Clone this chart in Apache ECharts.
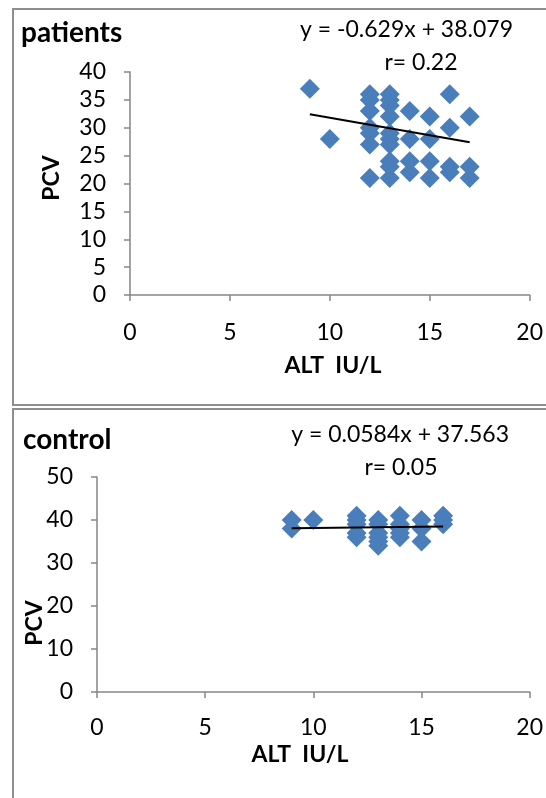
<!DOCTYPE html>
<html>
<head>
<meta charset="utf-8">
<script src="https://cdn.jsdelivr.net/npm/echarts@6/dist/echarts.min.js"></script>
<style>
html,body{margin:0;padding:0;background:#fff;}
#c{width:546px;height:798px;}
</style>
</head>
<body>
<div id="c"></div>
<script>
// ---- data ----
var xTicks = [0, 5, 10, 15, 20];
var patientsY = [0, 5, 10, 15, 20, 25, 30, 35, 40];
var controlY = [0, 10, 20, 30, 40, 50];

var patientsALT = [9, 10, 12, 12, 12, 12, 12, 12, 12, 13, 13, 13, 13, 13, 13, 13, 13, 13, 13, 14, 14, 14, 14, 15, 15, 15, 15, 16, 16, 16, 16, 17, 17, 17];
var patientsPCV = [37, 28, 36, 35, 33, 30, 29, 27, 21, 36, 35, 34, 32, 29, 28, 27, 24, 23, 21, 33, 28, 24, 22, 32, 28, 24, 21, 36, 30, 23, 22, 32, 23, 21];
var patientsTrend = [[9, 32.42], [17, 27.39]];

var controlALT = [9, 9, 10, 12, 12, 12, 12, 12, 13, 13, 13, 13, 13, 13, 14, 14, 14, 14, 14, 15, 15, 15, 16, 16, 16];
var controlPCV = [40, 38, 40, 41, 40, 39, 37, 36, 40, 39, 37, 36, 35, 34, 41, 39, 38, 37, 36, 40, 38, 35, 41, 40, 39];
var controlTrend = [[9, 38.09], [16, 38.5]];

function pairs(xs, ys) { return xs.map(function (x, i) { return [x, ys[i]]; }); }

var FONT = 'Lato';
var BLUE = '#4a7ebb';
var AX = '#868686';

function xAxisDef(gi) {
  return {
    gridIndex: gi, type: 'value', min: 0, max: 20, interval: 5,
    axisLine: { show: true, onZero: false, lineStyle: { color: AX, width: 1.5 } },
    axisTick: { show: true, length: 6, lineStyle: { color: AX, width: 1.5 } },
    splitLine: { show: false },
    axisLabel: { color: '#000', fontFamily: FONT, fontSize: 23, margin: gi === 0 ? 26 : 24 }
  };
}
function yAxisDef(gi, max, interval) {
  return {
    gridIndex: gi, type: 'value', min: 0, max: max, interval: interval,
    axisLine: { show: true, lineStyle: { color: AX, width: 1.5 } },
    axisTick: { show: true, length: 6, lineStyle: { color: AX, width: 1.5 } },
    splitLine: { show: false },
    axisLabel: { color: '#000', fontFamily: FONT, fontSize: 23, margin: 24 }
  };
}

var chart = echarts.init(document.getElementById('c'), null, { renderer: 'canvas' });
chart.setOption({
  animation: false,
  backgroundColor: '#fff',
  grid: [
    { left: 130, top: 72, right: 16, bottom: 503 },
    { left: 97, top: 477, right: 16, bottom: 106 }
  ],
  xAxis: [xAxisDef(0), xAxisDef(1)],
  yAxis: [yAxisDef(0, 40, 5), yAxisDef(1, 50, 10)],
  series: [
    { type: 'scatter', xAxisIndex: 0, yAxisIndex: 0, symbol: 'diamond', symbolSize: 20,
      itemStyle: { color: BLUE, opacity: 1 }, data: pairs(patientsALT, patientsPCV), z: 2 },
    { type: 'line', xAxisIndex: 0, yAxisIndex: 0, symbol: 'none', data: patientsTrend,
      lineStyle: { color: '#000', width: 2 }, z: 3 },
    { type: 'scatter', xAxisIndex: 1, yAxisIndex: 1, symbol: 'diamond', symbolSize: 20,
      itemStyle: { color: BLUE, opacity: 1 }, data: pairs(controlALT, controlPCV), z: 2 },
    { type: 'line', xAxisIndex: 1, yAxisIndex: 1, symbol: 'none', data: controlTrend,
      lineStyle: { color: '#000', width: 2 }, z: 3 }
  ],
  graphic: [
    { type: 'rect', shape: { x: 13, y: 9, width: 560, height: 396 },
      style: { fill: 'none', stroke: '#8e8e8e', lineWidth: 2 }, z: -1 },
    { type: 'rect', shape: { x: 13, y: 409, width: 560, height: 420 },
      style: { fill: 'none', stroke: '#8e8e8e', lineWidth: 2 }, z: -1 },
    { type: 'text', x: 21, y: 33, style: { text: 'patients', font: 'bold 28px ' + FONT, fill: '#000', textAlign: 'left', textVerticalAlign: 'middle' } },
    { type: 'text', x: 513, y: 30, style: { text: 'y = -0.629x + 38.079', font: '23px ' + FONT, fill: '#000', textAlign: 'right', textVerticalAlign: 'middle' } },
    { type: 'text', x: 421, y: 63, style: { text: 'r= 0.22', font: '23px ' + FONT, fill: '#000', textAlign: 'center', textVerticalAlign: 'middle' } },
    { type: 'text', x: 333, y: 366, style: { text: 'ALT  IU/L', font: 'bold 23px ' + FONT, fill: '#000', textAlign: 'center', textVerticalAlign: 'middle' } },
    { type: 'text', x: 52, y: 178, rotation: Math.PI / 2, style: { text: 'PCV', font: 'bold 23px ' + FONT, fill: '#000', textAlign: 'center', textVerticalAlign: 'middle' } },
    { type: 'text', x: 23, y: 440, style: { text: 'control', font: 'bold 28px ' + FONT, fill: '#000', textAlign: 'left', textVerticalAlign: 'middle' } },
    { type: 'text', x: 509, y: 435, style: { text: 'y = 0.0584x + 37.563', font: '23px ' + FONT, fill: '#000', textAlign: 'right', textVerticalAlign: 'middle' } },
    { type: 'text', x: 401, y: 468, style: { text: 'r= 0.05', font: '23px ' + FONT, fill: '#000', textAlign: 'center', textVerticalAlign: 'middle' } },
    { type: 'text', x: 300, y: 755, style: { text: 'ALT  IU/L', font: 'bold 23px ' + FONT, fill: '#000', textAlign: 'center', textVerticalAlign: 'middle' } },
    { type: 'text', x: 35, y: 623, rotation: Math.PI / 2, style: { text: 'PCV', font: 'bold 23px ' + FONT, fill: '#000', textAlign: 'center', textVerticalAlign: 'middle' } }
  ]
});
</script>
</body>
</html>
